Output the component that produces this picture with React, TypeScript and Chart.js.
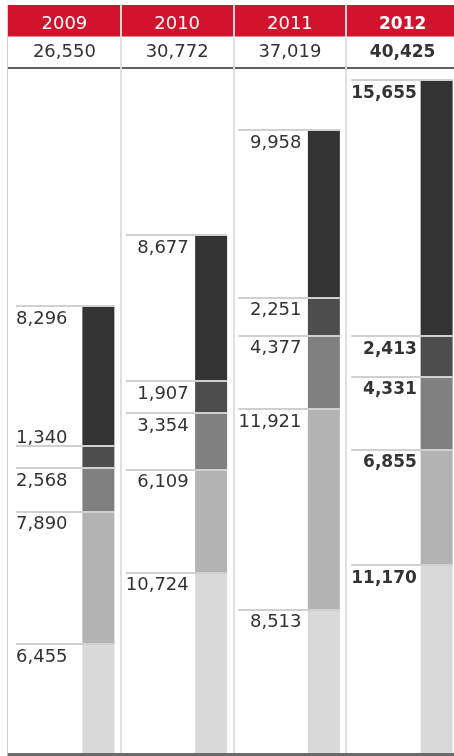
import React, { useEffect, useRef } from 'react';
import { Chart, registerables } from 'chart.js';

Chart.register(...registerables);

// ---- data ----
const years = ['2009', '2010', '2011', '2012'];
const totals = [26550, 30772, 37019, 40425];
// stacked segments, bottom to top
const segA = [6455, 10724, 8513, 11170];
const segB = [7890, 6109, 11921, 6855];
const segC = [2568, 3354, 4377, 4331];
const segD = [1340, 1907, 2251, 2413];
const segE = [8296, 8677, 9958, 15655];
const segments = [segA, segB, segC, segD, segE];
const segColors = ['#d9d9d9', '#b3b3b3', '#808080', '#4d4d4d', '#333333'];
const highlightYear = '2012';
const yMax = 40000;

const FONT = '"DejaVu Sans", Verdana, sans-serif';
const fmt = (v: number) => v.toLocaleString('en-US');
const fontFor = (bold: boolean) => (bold ? `bold 17px ${FONT}` : `18px ${FONT}`);

const decor = {
  id: 'decor',
  beforeDraw(chart: any) {
    const ctx = chart.ctx as CanvasRenderingContext2D;
    const xs = chart.scales.x;
    const area = chart.chartArea;
    const W = chart.width;
    const step = xs.getPixelForValue(1) - xs.getPixelForValue(0);
    ctx.save();
    // red header band
    ctx.fillStyle = '#d2132e';
    ctx.fillRect(area.left - 0.5, 5, W, 31.5);
    // totals underline
    ctx.fillStyle = '#5f5f5f';
    ctx.fillRect(area.left - 0.5, 67, W, 2);
    // bottom axis
    ctx.fillStyle = '#6a6a6a';
    ctx.fillRect(area.left - 0.5, area.bottom, W, 3);
    // column separators
    years.forEach((_, i) => {
      const colLeft = xs.getPixelForValue(i) - step / 2;
      if (i === 0) {
        ctx.fillStyle = '#d0d0d0';
        ctx.fillRect(colLeft - 1, 5, 1, area.bottom - 5);
      } else {
        ctx.fillStyle = 'rgba(222,222,222,0.95)';
        ctx.fillRect(Math.round(colLeft) - 1, 5, 2, area.bottom - 5);
      }
    });
    // header & totals text
    ctx.textAlign = 'center';
    ctx.textBaseline = 'alphabetic';
    years.forEach((y, i) => {
      const cx = xs.getPixelForValue(i);
      ctx.font = fontFor(y === highlightYear);
      ctx.fillStyle = '#ffffff';
      ctx.fillText(y, cx, 28.5);
      ctx.fillStyle = '#333333';
      ctx.fillText(fmt(totals[i]), cx, 57);
    });
    ctx.restore();
  },
  afterDatasetsDraw(chart: any) {
    const ctx = chart.ctx as CanvasRenderingContext2D;
    const xs = chart.scales.x;
    const area = chart.chartArea;
    const step = xs.getPixelForValue(1) - xs.getPixelForValue(0);
    ctx.save();
    years.forEach((y, i) => {
      const colLeft = xs.getPixelForValue(i) - step / 2;
      const lineStart = Math.max(colLeft + 5, area.left + 8);
      ctx.font = fontFor(y === highlightYear);
      const texts = segments.map((s) => fmt(s[i]));
      const widest = Math.max(...texts.map((t) => ctx.measureText(t).width));
      const anchor = lineStart + widest;
      segments.forEach((_, j) => {
        const el = chart.getDatasetMeta(j + 1).data[i];
        const top = Math.max(el.y, area.top);
        const right = el.x + el.width / 2;
        ctx.fillStyle = '#d0d0d0';
        ctx.fillRect(lineStart, Math.round(top) - 1, right - lineStart, 2);
        const h = el.base - top;
        const baseline = h < 25 ? top - 3 : top + 17.5;
        ctx.fillStyle = '#333333';
        ctx.textAlign = 'right';
        ctx.textBaseline = 'alphabetic';
        ctx.fillText(texts[j], anchor, baseline);
      });
    });
    ctx.restore();
  },
};

export default function App() {
  const ref = useRef<HTMLCanvasElement>(null);
  useEffect(() => {
    if (!ref.current) return;
    const datasets: any[] = [
      {
        label: 'pad',
        data: years.map(() => 0),
        stack: 'pad',
        backgroundColor: 'rgba(0,0,0,0)',
      },
      ...segments.map((s, j) => ({
        label: `seg${j}`,
        data: s,
        stack: 'main',
        backgroundColor: segColors[j],
      })),
    ];
    const chart = new Chart(ref.current, {
      type: 'bar',
      data: { labels: years, datasets },
      options: {
        animation: false,
        responsive: false,
        devicePixelRatio: 1,
        layout: { padding: { left: 8, right: 3, top: 80, bottom: 3 } },
        datasets: {
          bar: { categoryPercentage: 1.206, barPercentage: 0.4706, borderWidth: 0 },
        } as any,
        plugins: { legend: { display: false }, tooltip: { enabled: false } },
        scales: {
          x: { display: false },
          y: { display: false, stacked: true, min: 0, max: yMax },
        },
      },
      plugins: [decor],
    });
    return () => chart.destroy();
  }, []);
  return (
    <div
      style={{
        position: 'absolute',
        left: 0,
        top: 0,
        width: 454,
        height: 756,
        overflow: 'hidden',
        background: '#fff',
      }}
    >
      <canvas ref={ref} width={462} height={756} style={{ display: 'block', width: 462, height: 756 }} />
    </div>
  );
}
